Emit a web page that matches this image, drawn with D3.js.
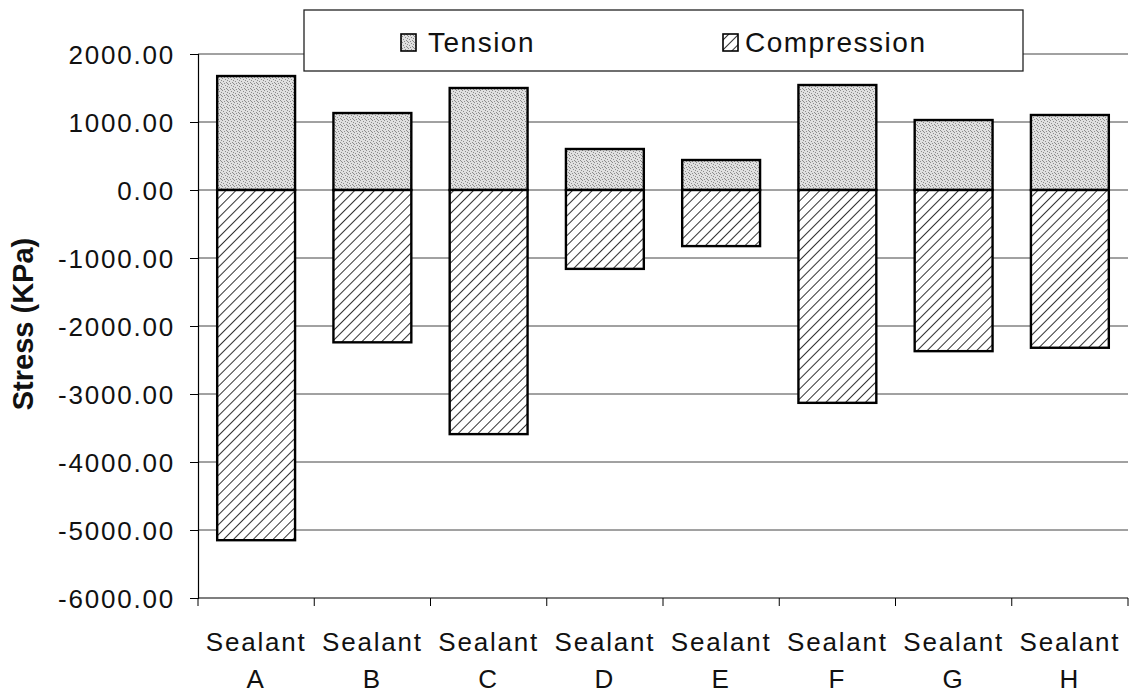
<!DOCTYPE html>
<html><head><meta charset="utf-8">
<script src="https://cdn.jsdelivr.net/npm/d3@7"></script>
<style>body{margin:0;background:#fff}svg{display:block;font-family:"Liberation Sans",Arial,sans-serif}</style>
</head><body><svg id="c" width="1132" height="694"></svg>
<script>
const categories = ["A","B","C","D","E","F","G","H"];
const tension = [1676, 1132, 1500, 603, 441, 1544, 1029, 1103];
const compression = [-5150, -2240, -3590, -1160, -825, -3130, -2370, -2320];
const yTicks = [2000,1000,0,-1000,-2000,-3000,-4000,-5000,-6000];
const seriesNames = ["Tension","Compression"];

const svg = d3.select("#c");
const defs = svg.append("defs");
// stipple pattern
const st = defs.append("pattern").attr("id","stip").attr("patternUnits","userSpaceOnUse").attr("width",6).attr("height",6);
st.append("rect").attr("width",6).attr("height",6).attr("fill","#e0e0e0");
[[0,0],[3,1],[1,3],[4,4],[2,5],[5,2],[5,5]].forEach(p=>st.append("rect").attr("x",p[0]).attr("y",p[1]).attr("width",1).attr("height",1).attr("fill","#8c8c8c"));
// hatch pattern
const ht = defs.append("pattern").attr("id","hatch").attr("patternUnits","userSpaceOnUse").attr("width",7).attr("height",7).attr("patternTransform","rotate(45)");
ht.append("rect").attr("width",7).attr("height",7).attr("fill","#fff");
ht.append("line").attr("x1",0).attr("y1",0).attr("x2",0).attr("y2",7).attr("stroke","#333").attr("stroke-width",2);

const x = d3.scaleBand().domain(categories).range([198,1128]).paddingInner(0.33).paddingOuter(0.165);
const y = d3.scaleLinear().domain([-6000,2000]).range([598,54]);
const fmt = d => d3.format(".2f")(d).replace("\u2212","-");

// gridlines
svg.append("g").selectAll("line").data(yTicks.filter(d=>d!==-6000)).join("line")
  .attr("x1",198).attr("x2",1128).attr("y1",d=>y(d)).attr("y2",d=>y(d))
  .attr("stroke","#444").attr("stroke-width",1);

// y axis
const ya = svg.append("g").attr("transform","translate(198,0)")
  .call(d3.axisLeft(y).tickValues(yTicks).tickSize(8).tickPadding(15).tickFormat(fmt));
ya.attr("font-size",null).attr("font-family",null);
ya.select(".domain").attr("stroke","#000").attr("stroke-width",1.2);
ya.selectAll(".tick line").attr("stroke","#000");
ya.selectAll("text").attr("font-size",26).attr("letter-spacing","1.8px").attr("fill","#111").attr("dy","0.35em");

// x axis
const xa = svg.append("g").attr("transform","translate(0,598)");
xa.append("line").attr("x1",198).attr("x2",1128).attr("y1",0).attr("y2",0).attr("stroke","#000").attr("stroke-width",1.2);
const bounds = categories.map(c=>x(c)-x.step()*x.paddingInner()/2).concat([1128]);
xa.selectAll("line.t").data(bounds).join("line").attr("class","t")
  .attr("x1",d=>d).attr("x2",d=>d).attr("y1",0).attr("y2",8).attr("stroke","#000");
const xl = xa.selectAll("text").data(categories).join("text")
  .attr("text-anchor","middle").attr("font-size",26).attr("letter-spacing","1.8px").attr("fill","#111")
  .attr("transform",c=>`translate(${x(c)+x.bandwidth()/2},0)`);
xl.append("tspan").attr("x",0).attr("y",53).text("Sealant");
xl.append("tspan").attr("x",0).attr("y",90).text(c=>c);

// bars
const bars = svg.append("g");
bars.selectAll("rect.t").data(categories).join("rect").attr("class","t")
  .attr("x",c=>x(c)).attr("width",x.bandwidth())
  .attr("y",(c,i)=>y(tension[i])).attr("height",(c,i)=>y(0)-y(tension[i]))
  .attr("fill","url(#stip)").attr("stroke","#000").attr("stroke-width",2.4);
bars.selectAll("rect.c").data(categories).join("rect").attr("class","c")
  .attr("x",c=>x(c)).attr("width",x.bandwidth())
  .attr("y",y(0)).attr("height",(c,i)=>y(compression[i])-y(0))
  .attr("fill","url(#hatch)").attr("stroke","#000").attr("stroke-width",2.4);

// y title
svg.append("text").attr("transform","translate(33,324) rotate(-90)")
  .attr("text-anchor","middle").attr("font-size",29).attr("font-weight","bold").attr("fill","#111").text("Stress (KPa)");

// legend
const lg = svg.append("g");
lg.append("rect").attr("x",304).attr("y",10).attr("width",719).attr("height",61)
  .attr("fill","#fff").attr("stroke","#222").attr("stroke-width",1.3);
const lx = [401, 723];
const tx = [428, 745];
const fills = ["url(#stip)","url(#hatch)"];
seriesNames.forEach((n,i)=>{
  lg.append("rect").attr("x",lx[i]).attr("y",34).attr("width",15).attr("height",17)
    .attr("fill",fills[i]).attr("stroke","#000").attr("stroke-width",1.6);
  lg.append("text").attr("x",tx[i]).attr("y",52).attr("font-size",28).attr("letter-spacing","1.5px").attr("fill","#111").text(n);
});
</script></body></html>
